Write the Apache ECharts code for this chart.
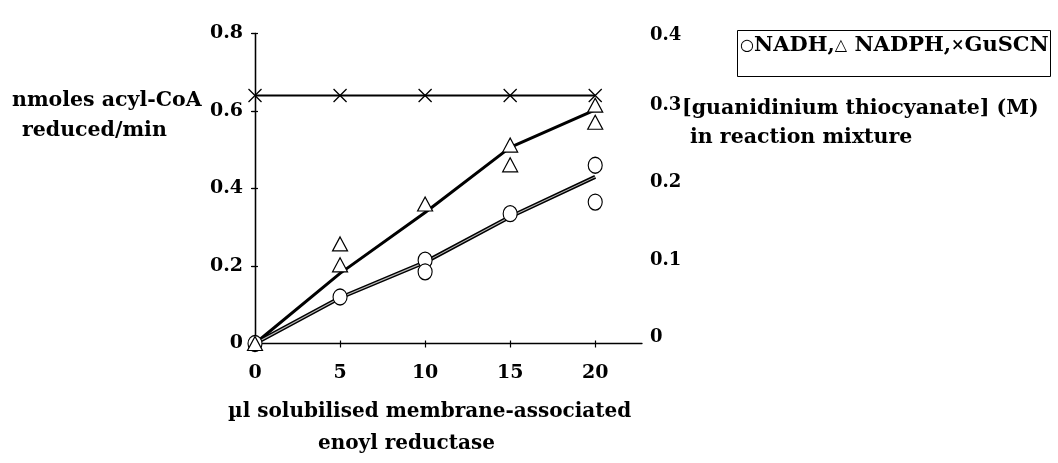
<!DOCTYPE html>
<html>
<head>
<meta charset="utf-8">
<script src="https://cdn.jsdelivr.net/npm/echarts@6/dist/echarts.min.js"></script>
<style>
html,body{margin:0;padding:0;background:#fff;}
#chart{width:1058px;height:463px;}
</style>
</head>
<body>
<div id="chart"></div>
<script>
// ---- data ----
const xTicks = [0, 5, 10, 15, 20];
const leftTicks = [0, 0.2, 0.4, 0.6, 0.8];
const rightTicks = [0, 0.1, 0.2, 0.3, 0.4];

// NADH (open circles), replicate measurements
const nadhX = [0, 5, 10, 10, 15, 20, 20];
const nadhY = [0, 0.12, 0.215, 0.185, 0.335, 0.46, 0.365];
// NADH fitted line
const nadhFitX = [0, 5, 10, 15, 20];
const nadhFitY = [0, 0.118, 0.21, 0.327, 0.43];

// NADPH (open triangles), replicate measurements
const nadphX = [0, 5, 5, 10, 15, 15, 20, 20];
const nadphY = [0, 0.257, 0.203, 0.36, 0.512, 0.461, 0.615, 0.571];
// NADPH fitted line
const nadphFitX = [0, 5, 10, 15, 20];
const nadphFitY = [0, 0.181, 0.338, 0.506, 0.603];

// GuSCN concentration (M), right axis
const guscnX = [0, 5, 10, 15, 20];
const guscnY = [0.32, 0.32, 0.32, 0.32, 0.32];

const pairs = (xs, ys) => xs.map((x, i) => [x, ys[i]]);

const FONT = 'DejaVu Serif';
const labelStyle = {fontFamily: FONT, fontWeight: 'bold', fontSize: 19, color: '#000'};
const rLabelStyle = {fontFamily: FONT, fontWeight: 'bold', fontSize: 18, color: '#000'};
const ts = (fs) => ({fontFamily: FONT, fontWeight: 'bold', fontSize: fs, color: '#000', lineHeight: fs});

const chart = echarts.init(document.getElementById('chart'), null, {renderer: 'canvas'});

const axisLine = {show: true, lineStyle: {color: '#000', width: 1.3}};
const fmt = v => v === 0 ? '0' : v.toFixed(1);

const option = {
  backgroundColor: '#fff',
  animation: false,
  title: [
    {text: 'nmoles acyl-CoA', left: 12, top: 90, padding: 0, textStyle: ts(20.5)},
    {text: 'reduced/min', left: 22, top: 120, padding: 0, textStyle: ts(20.5)},
    {text: '[guanidinium thiocyanate] (M)', left: 682, top: 98, padding: 0, textStyle: ts(20.5)},
    {text: 'in reaction mixture', left: 690, top: 127, padding: 0, textStyle: ts(20.5)},
    {text: 'µl solubilised membrane-associated', left: 228, top: 402, padding: 0, textStyle: ts(20)},
    {text: 'enoyl reductase', left: 318, top: 434, padding: 0, textStyle: ts(20)},
    {
      text: '{s|○}{t|NADH,}{s|△}{t| NADPH,}{s|×}{t|GuSCN}',
      left: 737, top: 30,
      padding: [5, 2, 21, 3],
      borderColor: '#000', borderWidth: 1,
      textStyle: {
        rich: {
          s: {fontFamily: FONT, fontSize: 16, color: '#000', lineHeight: 21},
          t: {fontFamily: FONT, fontWeight: 'bold', fontSize: 21, color: '#000', lineHeight: 21}
        }
      }
    }
  ],
  grid: {left: 255, right: 416, top: 33.5, bottom: 119.5, containLabel: false},
  xAxis: [
    {
      type: 'value', min: 0, max: 22.75, interval: 5,
      axisLine: axisLine,
      axisTick: {show: true, length: 4, customValues: xTicks, lineStyle: {color: '#000', width: 1.2}},
      axisLabel: {customValues: xTicks, margin: 20, ...labelStyle, formatter: v => String(v)},
      splitLine: {show: false}
    },
    {
      type: 'value', min: 0, max: 22.75, interval: 5, position: 'bottom',
      axisLine: {show: false},
      axisTick: {show: true, inside: true, length: 3, customValues: xTicks, lineStyle: {color: '#000', width: 1.2}},
      axisLabel: {show: false},
      splitLine: {show: false}
    }
  ],
  yAxis: [
    {
      type: 'value', min: 0, max: 0.8, interval: 0.2, position: 'left',
      axisLine: axisLine,
      axisTick: {show: true, length: 3, lineStyle: {color: '#000', width: 1.2}},
      axisLabel: {margin: 12, ...labelStyle, formatter: fmt},
      splitLine: {show: false}
    },
    {
      type: 'value', min: 0, max: 0.4, interval: 0.1, position: 'right',
      axisLine: axisLine,
      axisTick: {show: true, inside: true, length: 4, lineStyle: {color: '#000', width: 1.2}},
      axisLabel: {
        margin: 8,
        formatter: v => (v === 0.4 ? '{a|' : '{b|') + fmt(v) + '}',
        rich: {
          a: {...rLabelStyle, padding: [4, 0, 0, 0]},
          b: {...rLabelStyle, padding: [0, 0, 12, 0]}
        }
      },
      splitLine: {show: false}
    },
    {
      type: 'value', min: 0, max: 0.8, interval: 0.2, position: 'left',
      axisLine: {show: false},
      axisTick: {show: true, inside: true, length: 3, lineStyle: {color: '#000', width: 1.2}},
      axisLabel: {show: false},
      splitLine: {show: false}
    }
  ],
  series: [
    {
      name: 'GuSCN', type: 'line', yAxisIndex: 1, data: pairs(guscnX, guscnY),
      lineStyle: {color: '#000', width: 2},
      symbol: 'path://M0,0L10,10M0,10L10,0', symbolSize: 13, showSymbol: true,
      itemStyle: {color: 'none', borderColor: '#000', borderWidth: 1.3},
      z: 3
    },
    {
      name: 'NADPH fit', type: 'line', yAxisIndex: 0, data: pairs(nadphFitX, nadphFitY),
      lineStyle: {color: '#000', width: 3}, showSymbol: false, symbol: 'none', z: 2
    },
    {
      name: 'NADH fit', type: 'line', yAxisIndex: 0, data: pairs(nadhFitX, nadhFitY),
      lineStyle: {color: '#000', width: 4}, showSymbol: false, symbol: 'none', z: 2
    },
    {
      name: 'NADH fit inner', type: 'line', yAxisIndex: 0, data: pairs(nadhFitX, nadhFitY),
      lineStyle: {color: '#bbb', width: 1.1}, showSymbol: false, symbol: 'none', z: 2
    },
    {
      name: 'NADH', type: 'scatter', yAxisIndex: 0, data: pairs(nadhX, nadhY),
      symbol: 'circle', symbolSize: [14, 16],
      itemStyle: {color: '#fff', borderColor: '#000', borderWidth: 1.2, opacity: 1},
      z: 5
    },
    {
      name: 'NADPH', type: 'scatter', yAxisIndex: 0, data: pairs(nadphX, nadphY),
      symbol: 'triangle', symbolSize: [15, 14],
      itemStyle: {color: '#fff', borderColor: '#000', borderWidth: 1.2, opacity: 1},
      z: 5
    }
  ]
};
chart.setOption(option);
</script>
</body>
</html>
